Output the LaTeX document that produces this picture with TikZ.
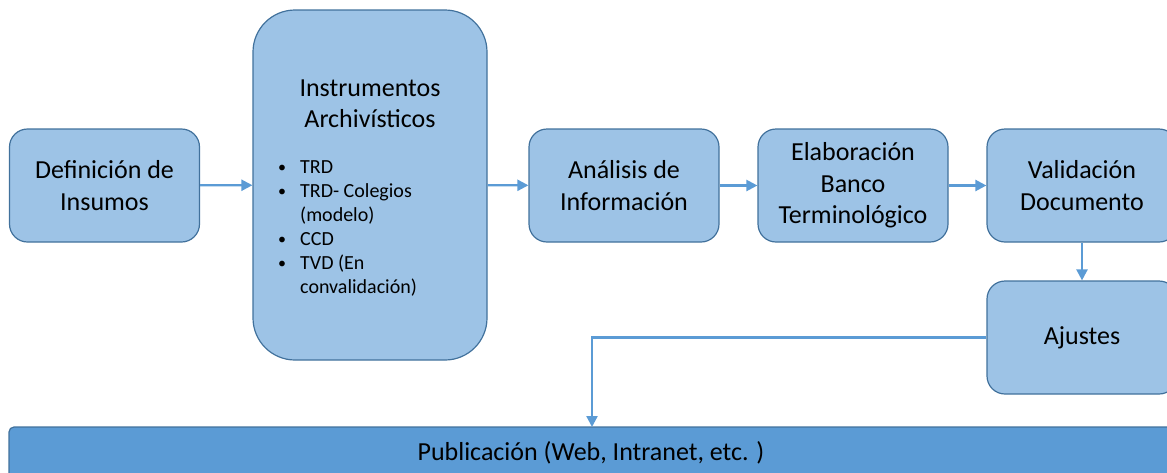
\documentclass[tikz,border=0pt]{standalone}
\usepackage{fontspec}
\setmainfont{Carlito}
\usetikzlibrary{arrows.meta,positioning}
\definecolor{boxblue}{HTML}{9DC3E6}
\definecolor{edgeblue}{HTML}{41719C}
\definecolor{flowblue}{HTML}{5B9BD5}

\tikzset{
  stepbox/.style={draw=edgeblue,line width=1.2pt,fill=boxblue,rounded corners=18pt,
    minimum width=190pt,minimum height=113pt,inner sep=0pt,align=center,
    font=\fontsize{26}{31.5}\selectfont},
  flow/.style={draw=flowblue,line width=2.3pt,-{Triangle[length=11pt,width=11pt]}},
  bulletlist/.style={align=left,inner sep=0pt,anchor=north west,
    font=\fontsize{20}{24}\selectfont}
}
\newcommand{\itm}{\makebox[23pt][l]{\hspace*{1pt}\raisebox{1pt}{\scalebox{0.8}{\textbullet}}}}

\begin{document}
\begin{tikzpicture}[x=1pt,y=-1pt]
    \useasboundingbox (0,0) rectangle (1167,472);

    % Main row of steps
    \node[stepbox] (def) at (104.5,185.5) {Definición de\\Insumos};
    \node[stepbox,minimum width=234pt,minimum height=350pt,rounded corners=42pt] (inst) at (370,185) {};
    \node[stepbox] (ana) at (624,185.5) {Análisis de\\Información};
    \node[stepbox] (ela) at (853,185.5) {Elaboración\\Banco\\Terminológico};
    \node[stepbox] (val) at (1082,185.5) {Validación\\Documento};
    \node[stepbox] (aju) at (1082,337.5) {Ajustes};

    % Contents of the archival instruments box
    \node[font=\fontsize{26}{31.5}\selectfont,align=center] (insttitle) at (370,103.5) {Instrumentos\\Archivísticos};
    \node[bulletlist] (instlist) at (277,160.5) {\itm TRD\\ \itm TRD- Colegios\\ \hspace*{23pt}(modelo)\\ \itm CCD\\ \itm TVD (En\\ \hspace*{23pt}convalidación)};

    % Publication bar
    \node[draw=edgeblue,line width=1.2pt,fill=flowblue,rounded corners=5pt,minimum width=1164pt,minimum height=52pt,
      inner sep=0pt] (pub) at (591,453) {};
    \node[font=\fontsize{26}{31.5}\selectfont,inner sep=0pt] (pubtext) at (591,453) {Publicación (Web, Intranet, etc. )};
    \coordinate (drop) at (592,427);

    % Flow
    \draw[flow] (def) -- (inst);
    \draw[flow] (inst) -- (ana);
    \draw[flow] (ana) -- (ela);
    \draw[flow] (ela) -- (val);
    \draw[flow] (val) -- (aju);
    \draw[flow] (aju.west) -| (drop);
\end{tikzpicture}
\end{document}
